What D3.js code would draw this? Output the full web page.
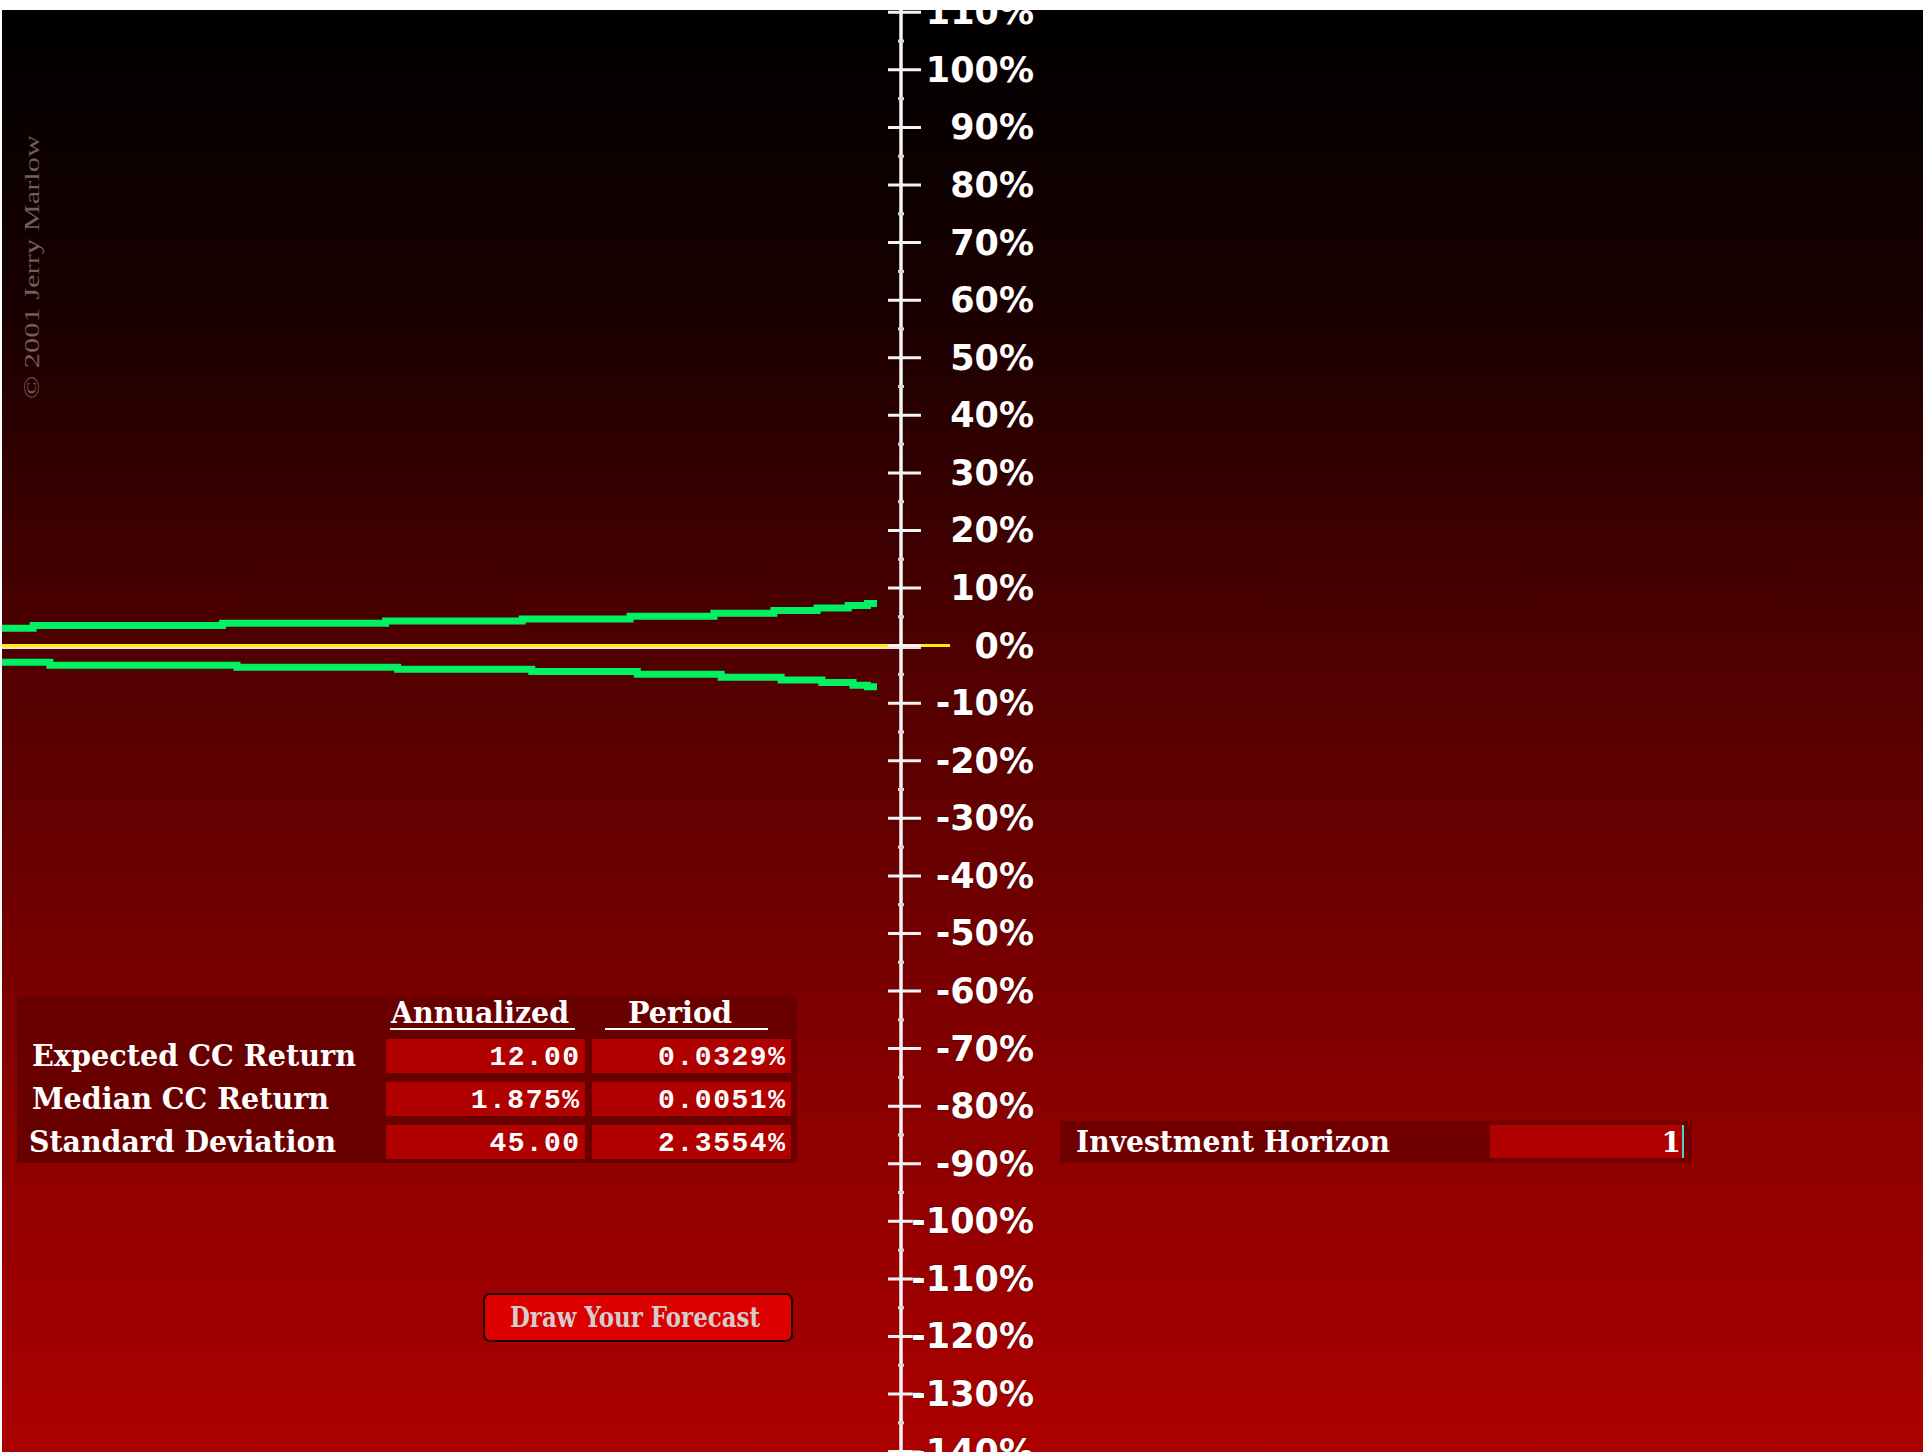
<!DOCTYPE html>
<html>
<head>
<meta charset="utf-8">
<script src="https://cdn.jsdelivr.net/npm/d3@7/dist/d3.min.js"></script>
<style>
  html, body { margin: 0; padding: 0; background: #ffffff; }
  svg { display: block; }
</style>
</head>
<body>
<svg id="chart" width="1923" height="1452"></svg>
<script>
// ---------------- DATA ----------------
// percent axis
const yTickValues = d3.range(-140, 111, 10);
const yMinorValues = d3.range(-135, 111, 10);
// forecast band (x = day of 365-day horizon, y = percent)
const upperDays = [0, 13, 92, 160, 217, 262, 297, 322, 340, 353, 361, 365];
const upperVals = [3.0, 3.47, 3.87, 4.29, 4.64, 5.09, 5.61, 6.08, 6.55, 6.95, 7.30, 7.30];
const lowerDays = [0, 20, 98, 165, 221, 265, 300, 325, 342, 355, 361, 365];
const lowerVals = [-2.90, -3.42, -3.77, -4.13, -4.52, -4.99, -5.51, -5.96, -6.43, -6.90, -7.17, -7.17];
const expectedLine = 0; // percent
// table
const tableHeaders = ["Annualized", "Period"];
const rowLabels = ["Expected CC Return", "Median CC Return", "Standard Deviation"];
const annualizedVals = ["12.00", "1.875%", "45.00"];
const periodVals = ["0.0329%", "0.0051%", "2.3554%"];
const horizonLabel = "Investment Horizon";
const horizonValue = "1";
const buttonLabel = "Draw Your Forecast";
const copyright = "\u00A9 2001  Jerry Marlow";

// ---------------- LAYOUT ----------------
const W = 1923, H = 1452, TOP = 10, LEFT = 2;
const axisX = 901;
const svg = d3.select("#chart");

const y = d3.scaleLinear().domain([-140, 110]).range([1451.6, 12.3]);
const x = d3.scaleLinear().domain([0, 365]).range([LEFT, 877]);

const defs = svg.append("defs");
const grad = defs.append("linearGradient").attr("id", "bg")
  .attr("gradientUnits", "userSpaceOnUse")
  .attr("x1", 0).attr("y1", TOP).attr("x2", 0).attr("y2", H);
[[0, "#000000"], [0.2, "#180000"], [0.44, "#4e0000"], [0.76, "#8a0000"], [1, "#ac0000"]]
  .forEach(([o, c]) => grad.append("stop").attr("offset", o).attr("stop-color", c));
defs.append("clipPath").attr("id", "clip").append("rect")
  .attr("x", LEFT).attr("y", TOP).attr("width", W - LEFT).attr("height", H - TOP);

svg.append("rect").attr("width", W).attr("height", H).attr("fill", "#ffffff");
const g = svg.append("g").attr("clip-path", "url(#clip)");
g.append("rect").attr("x", LEFT).attr("y", TOP).attr("width", W - LEFT).attr("height", H - TOP)
  .attr("fill", "url(#bg)");

// copyright
g.append("text")
  .attr("transform", `translate(39,399) rotate(-90)`)
  .attr("font-family", "Liberation Serif, serif")
  .attr("font-size", 20)
  .attr("fill", "#6e5e5e")
  .attr("textLength", 264).attr("lengthAdjust", "spacingAndGlyphs")
  .text(copyright);

// forecast lines
const line = d3.line().x(d => x(d[0])).y(d => y(d[1])).curve(d3.curveStepAfter);
g.append("path").datum(upperDays.map((d, i) => [d, upperVals[i]]))
  .attr("d", line).attr("fill", "none").attr("stroke", "#00f262").attr("stroke-width", 7);
g.append("path").datum(lowerDays.map((d, i) => [d, lowerVals[i]]))
  .attr("d", line).attr("fill", "none").attr("stroke", "#00f262").attr("stroke-width", 7);

// expected-return line
g.append("line").attr("x1", LEFT).attr("x2", axisX + 20)
  .attr("y1", y(expectedLine) + 2.5).attr("y2", y(expectedLine) + 2.5)
  .attr("stroke", "#f2dede").attr("stroke-width", 2);
g.append("line").attr("x1", LEFT).attr("x2", axisX + 49)
  .attr("y1", y(expectedLine)).attr("y2", y(expectedLine))
  .attr("stroke", "#ffee00").attr("stroke-width", 3);

// axis
const axisG = g.append("g");
axisG.append("line").attr("x1", axisX).attr("x2", axisX).attr("y1", TOP).attr("y2", H)
  .attr("stroke", "#f4f4f4").attr("stroke-width", 3.5);
axisG.selectAll("line.minor").data(yMinorValues).join("line").attr("class", "minor")
  .attr("x1", axisX - 3).attr("x2", axisX + 3)
  .attr("y1", d => y(d)).attr("y2", d => y(d))
  .attr("stroke", "#d8d8d8").attr("stroke-width", 3);
axisG.selectAll("line.major").data(yTickValues).join("line").attr("class", "major")
  .attr("x1", axisX - 13).attr("x2", axisX + 20)
  .attr("y1", d => y(d)).attr("y2", d => y(d))
  .attr("stroke", "#f4f4f4").attr("stroke-width", 3);
axisG.selectAll("text").data(yTickValues).join("text")
  .attr("x", 1034).attr("y", d => y(d))
  .attr("text-anchor", "end").attr("dominant-baseline", "central")
  .attr("font-family", "DejaVu Sans, Verdana, sans-serif").attr("font-weight", "bold")
  .attr("font-size", 35)
  .attr("fill", "#ffffff")
  .attr("stroke", "rgba(40,0,0,0.55)").attr("stroke-width", 1.2).attr("paint-order", "stroke")
  .text(d => d + "%");

// ---------------- TABLE ----------------
const serif = "DejaVu Serif, serif";
const mono = "Liberation Mono, monospace";
const tbl = g.append("g");
tbl.append("rect").attr("x", 17).attr("y", 996).attr("width", 780).attr("height", 167).attr("fill", "#690000");

const colX = [386, 592], colW = 199;
const headerCX = [480, 680], headerW = [178, 104];
const underline = [[390, 575], [605, 768]];
tableHeaders.forEach((h, i) => {
  tbl.append("text").attr("x", headerCX[i]).attr("y", 1023).attr("text-anchor", "middle")
    .attr("font-family", serif).attr("font-weight", "bold").attr("font-size", 29)
    .attr("fill", "#ffffff").attr("textLength", headerW[i]).attr("lengthAdjust", "spacingAndGlyphs")
    .text(h);
  tbl.append("line").attr("x1", underline[i][0]).attr("x2", underline[i][1])
    .attr("y1", 1029).attr("y2", 1029).attr("stroke", "#ffffff").attr("stroke-width", 2);
});

const rowY = [1039, 1082, 1125], rowH = 34;
const labelX = [32, 32, 29], labelW = [324, 297, 307];
rowLabels.forEach((lab, i) => {
  tbl.append("text").attr("x", labelX[i]).attr("y", rowY[i] + 27)
    .attr("font-family", serif).attr("font-weight", "bold").attr("font-size", 29)
    .attr("fill", "#ffffff").attr("textLength", labelW[i]).attr("lengthAdjust", "spacingAndGlyphs")
    .text(lab);
  [annualizedVals[i], periodVals[i]].forEach((v, j) => {
    tbl.append("rect").attr("x", colX[j]).attr("y", rowY[i]).attr("width", colW).attr("height", rowH)
      .attr("fill", "#b00000");
    tbl.append("text").attr("x", colX[j] + colW - 6).attr("y", rowY[i] + 26)
      .attr("text-anchor", "end")
      .attr("font-family", mono).attr("font-weight", "bold").attr("font-size", 28)
      .attr("fill", "#ffffff")
      .attr("textLength", v.length * 18.7 - 4).attr("lengthAdjust", "spacing")
      .text(v);
  });
});

// investment horizon
const hz = g.append("g");
hz.append("rect").attr("x", 1060).attr("y", 1121).attr("width", 632).attr("height", 42).attr("fill", "#700000");
hz.append("text").attr("x", 1076).attr("y", 1152)
  .attr("font-family", serif).attr("font-weight", "bold").attr("font-size", 29)
  .attr("fill", "#ffffff").attr("textLength", 314).attr("lengthAdjust", "spacingAndGlyphs")
  .text(horizonLabel);
hz.append("rect").attr("x", 1490).attr("y", 1125).attr("width", 193).attr("height", 33).attr("fill", "#b00000");
hz.append("text").attr("x", 1681).attr("y", 1152).attr("text-anchor", "end")
  .attr("font-family", serif).attr("font-weight", "bold").attr("font-size", 28)
  .attr("fill", "#ffffff").text(horizonValue);
hz.append("line").attr("x1", 1683).attr("x2", 1683).attr("y1", 1125).attr("y2", 1158)
  .attr("stroke", "#50d0d0").attr("stroke-width", 2);

// button
const bt = g.append("g");
bt.append("rect").attr("x", 484).attr("y", 1294).attr("width", 308).attr("height", 47).attr("rx", 6)
  .attr("fill", "#dc0000").attr("stroke", "#1a0000").attr("stroke-width", 2);
bt.append("text").attr("x", 635).attr("y", 1327).attr("text-anchor", "middle")
  .attr("font-family", serif).attr("font-weight", "bold").attr("font-size", 27)
  .attr("fill", "#d6cccc").attr("textLength", 250).attr("lengthAdjust", "spacingAndGlyphs")
  .text(buttonLabel);
</script>
</body>
</html>
